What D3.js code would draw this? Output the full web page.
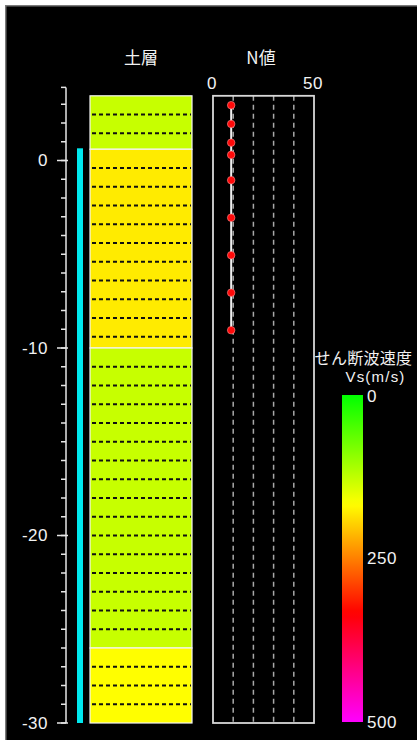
<!DOCTYPE html>
<html>
<head>
<meta charset="utf-8">
<script src="https://cdn.jsdelivr.net/npm/d3@7"></script>
<style>
  html, body { margin: 0; padding: 0; background: #ffffff; }
  svg { display: block; }
  text { font-family: "Noto Sans CJK JP", "Noto Sans", sans-serif; fill: #f2f2f2; }
  text.latin { font-family: "Liberation Sans", "Noto Sans", sans-serif; }
</style>
</head>
<body>
<svg id="chart" width="417" height="740"></svg>
<script>
// Soil layers: elevation of top / bottom (m) and shear-wave velocity (m/s)
const layerTop = [3.45, 0.6, -10, -26];
const layerBottom = [0.6, -10, -26, -30];
const layerVs = [130, 180, 130, 167];

// Groundwater column (elevation range, m)
const waterTop = 0.65;
const waterBottom = -30;

// SPT blow counts: test elevation (m) and N value
const nElev = [2.95, 1.95, 0.95, 0.3, -1.05, -3.05, -5.05, -7.05, -9.05];
const nValue = [9, 9, 9, 9, 9, 9, 9, 9, 9];

// Axis ticks and labels
const elevMajorTicks = [0, -10, -20, -30];
const nTicks = [0, 50];
const nGridTicks = [10, 20, 30, 40];
const vsTicks = [0, 250, 500];

const titleSoil = "土層";
const titleN = "N値";
const legendTitle1 = "せん断波速度";
const legendTitle2 = "Vs(m/s)";

const svg = d3.select("#chart");

// panel background with inset border
svg.append("rect").attr("x", 5).attr("y", 5).attr("width", 412).attr("height", 735).attr("fill", "#000");
svg.append("line").attr("x1", 5.75).attr("x2", 5.75).attr("y1", 5).attr("y2", 740)
  .attr("stroke", "#7a7a7a").attr("stroke-width", 1.5);
svg.append("line").attr("x1", 5).attr("x2", 417).attr("y1", 5.75).attr("y2", 5.75)
  .attr("stroke", "#7a7a7a").attr("stroke-width", 1.5);

// scales
const y = d3.scaleLinear().domain([0, -30]).range([160.5, 723]);
const xN = d3.scaleLinear().domain([0, 50]).range([213, 314]);
const vsY = d3.scaleLinear().domain([0, 500]).range([395, 722]);
const hueScale = d3.scaleLinear().domain([0, 500]).range([120, -60]);
const vsColor = v => d3.hsl((hueScale(v) + 360) % 360, 1, 0.5).formatHex();

// elevation axis
const axisTop = 3.9;
const minorTicks = d3.range(-30, Math.floor(axisTop) + 1, 1);
const axisG = svg.append("g").attr("transform", "translate(66,0)");
axisG.append("line").attr("x1", 0).attr("x2", 0).attr("y1", y(axisTop)).attr("y2", y(-30))
  .attr("stroke", "#e6e6e6").attr("stroke-width", 1.5);
axisG.append("line").attr("x1", -5).attr("x2", 0).attr("y1", y(axisTop)).attr("y2", y(axisTop))
  .attr("stroke", "#e6e6e6").attr("stroke-width", 1.5);
axisG.selectAll("line.minor").data(minorTicks).join("line").attr("class", "minor")
  .attr("x1", -5).attr("x2", 0).attr("y1", d => y(d)).attr("y2", d => y(d))
  .attr("stroke", "#e6e6e6").attr("stroke-width", 1.5);
axisG.selectAll("line.major").data(elevMajorTicks).join("line").attr("class", "major")
  .attr("x1", -9).attr("x2", 2).attr("y1", d => y(d)).attr("y2", d => y(d))
  .attr("stroke", "#e6e6e6").attr("stroke-width", 1.5);
axisG.selectAll("text").data(elevMajorTicks).join("text").attr("class", "latin")
  .attr("x", -18).attr("y", d => y(d)).attr("text-anchor", "end")
  .attr("dominant-baseline", "central").attr("font-size", 17).attr("letter-spacing", 0.5)
  .text(d => String(d));

// groundwater bar
svg.append("rect").attr("x", 77).attr("width", 6)
  .attr("y", y(waterTop)).attr("height", y(waterBottom) - y(waterTop))
  .attr("fill", "#00e8ee");

// soil column
const soilX0 = 90, soilX1 = 192;
const layers = layerTop.map((t, i) => ({ top: t, bottom: layerBottom[i], vs: layerVs[i] }));
const soilG = svg.append("g");
soilG.selectAll("rect").data(layers).join("rect")
  .attr("x", soilX0).attr("width", soilX1 - soilX0)
  .attr("y", d => y(d.top)).attr("height", d => y(d.bottom) - y(d.top))
  .attr("fill", d => vsColor(d.vs))
  .attr("stroke", "#f4f4f4").attr("stroke-width", 1.2);
// sub-boundaries every 1 m from each layer top
const subLines = layers.flatMap(l => d3.range(l.top - 1, l.bottom + 0.05, -1));
soilG.selectAll("line.sub").data(subLines).join("line").attr("class", "sub")
  .attr("x1", soilX0 + 2).attr("x2", soilX1 - 1).attr("y1", d => y(d)).attr("y2", d => y(d))
  .attr("stroke", "#111").attr("stroke-width", 2).attr("stroke-dasharray", "4,3");
svg.append("text").attr("x", (soilX0 + soilX1) / 2).attr("y", 56)
  .attr("text-anchor", "middle").attr("dominant-baseline", "central")
  .attr("font-size", 17).text(titleSoil);

// N value panel
const nG = svg.append("g");
nG.selectAll("line.grid").data(nGridTicks).join("line").attr("class", "grid")
  .attr("x1", d => xN(d)).attr("x2", d => xN(d)).attr("y1", y(layerTop[0])).attr("y2", y(-30))
  .attr("stroke", "#a8a8a8").attr("stroke-width", 1.5).attr("stroke-dasharray", "5,4");
nG.append("rect").attr("x", xN(0)).attr("y", y(layerTop[0]))
  .attr("width", xN(50) - xN(0)).attr("height", y(-30) - y(layerTop[0]))
  .attr("fill", "none").attr("stroke", "#d8d8d8").attr("stroke-width", 1.8);
const nPts = nElev.map((e, i) => ({ e, n: nValue[i] }));
nG.append("path").datum(nPts)
  .attr("d", d3.line().x(d => xN(d.n)).y(d => y(d.e)))
  .attr("fill", "none").attr("stroke", "#f0f0f0").attr("stroke-width", 2);
nG.selectAll("circle").data(nPts).join("circle")
  .attr("cx", d => xN(d.n)).attr("cy", d => y(d.e)).attr("r", 3.8)
  .attr("fill", "#ff0a0a").attr("stroke", "#ff9090").attr("stroke-width", 0.6);
nG.selectAll("text").data(nTicks).join("text").attr("class", "latin")
  .attr("x", d => xN(d) - 1).attr("y", 83).attr("text-anchor", "middle")
  .attr("dominant-baseline", "central").attr("font-size", 17).attr("letter-spacing", 0.5)
  .text(d => d);
svg.append("text").attr("x", 261).attr("y", 56)
  .attr("text-anchor", "middle").attr("dominant-baseline", "central")
  .attr("font-size", 17).text(titleN);

// Vs colour bar
const defs = svg.append("defs");
const grad = defs.append("linearGradient").attr("id", "vsGrad")
  .attr("x1", 0).attr("x2", 0).attr("y1", 0).attr("y2", 1);
grad.selectAll("stop").data(d3.range(0, 501, 10)).join("stop")
  .attr("offset", d => d / 500).attr("stop-color", d => vsColor(d));
svg.append("rect").attr("x", 342).attr("width", 21)
  .attr("y", vsY(0)).attr("height", vsY(500) - vsY(0)).attr("fill", "url(#vsGrad)");
svg.selectAll("text.vs").data(vsTicks).join("text").attr("class", "vs latin")
  .attr("x", 367).attr("y", d => vsY(d) + (d === 0 ? 1 : 0)).attr("dominant-baseline", "central")
  .attr("font-size", 17).attr("letter-spacing", 0.5).text(d => d);
svg.append("text").attr("x", 363.5).attr("y", 357).attr("text-anchor", "middle")
  .attr("dominant-baseline", "central").attr("font-size", 16).attr("letter-spacing", 0.3)
  .text(legendTitle1);
svg.append("text").attr("class", "latin").attr("x", 375.5).attr("y", 376).attr("text-anchor", "middle")
  .attr("dominant-baseline", "central").attr("font-size", 15).attr("letter-spacing", 1.2)
  .text(legendTitle2);
</script>
</body>
</html>
